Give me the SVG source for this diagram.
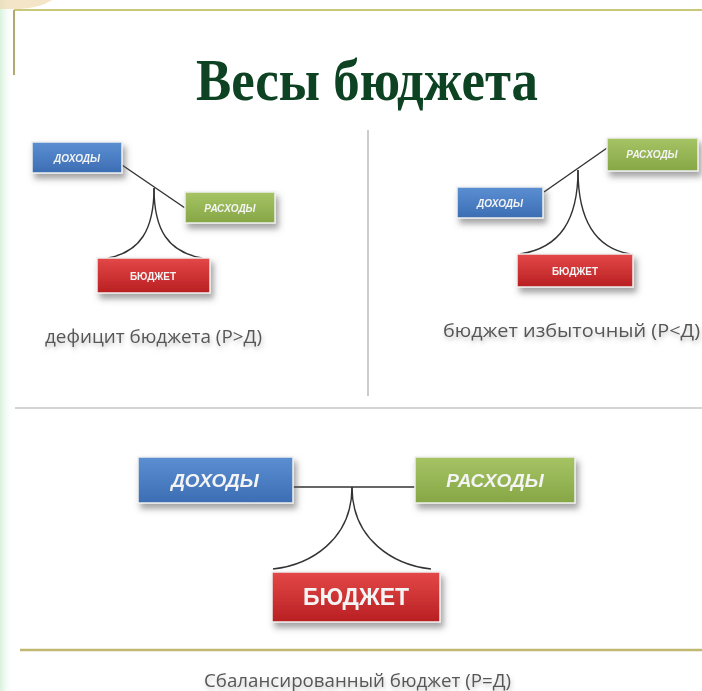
<svg xmlns="http://www.w3.org/2000/svg" width="702" height="691" viewBox="0 0 702 691">
<defs>
<linearGradient id="gBlue" x1="0" y1="0" x2="0" y2="1"><stop offset="0" stop-color="#5b8fd2"/><stop offset="1" stop-color="#3c6db3"/></linearGradient>
<linearGradient id="gGreen" x1="0" y1="0" x2="0" y2="1"><stop offset="0" stop-color="#a6c464"/><stop offset="1" stop-color="#86a646"/></linearGradient>
<linearGradient id="gRed" x1="0" y1="0" x2="0" y2="1"><stop offset="0" stop-color="#e44848"/><stop offset="1" stop-color="#b81f22"/></linearGradient>
<linearGradient id="gLeft" x1="0" y1="0" x2="1" y2="0"><stop offset="0" stop-color="#d8f2dc"/><stop offset="1" stop-color="#ffffff" stop-opacity="0"/></linearGradient>
<filter id="sh" x="-20%" y="-30%" width="150%" height="180%"><feDropShadow dx="3" dy="5" stdDeviation="3" flood-color="#555" flood-opacity="0.55"/></filter>
<filter id="tsh" x="-10%" y="-30%" width="120%" height="200%"><feDropShadow dx="1" dy="3" stdDeviation="2" flood-color="#888" flood-opacity="0.5"/></filter>
</defs>
<style>
.box{stroke:#eef0ee;stroke-width:1.5}
.lbl{font-family:"Liberation Sans",Arial,sans-serif;font-weight:bold;font-style:italic;fill:#f4f4f4;text-anchor:middle}
.blbl{font-family:"Liberation Sans",Arial,sans-serif;font-weight:bold;fill:#f4f4f4;text-anchor:middle}
.cap{font-family:"Open Sans","Liberation Sans",sans-serif;fill:#575757;filter:url(#tsh)}
.con{fill:none;stroke:#333;stroke-width:1.4}
</style>
<rect width="702" height="691" fill="#fff"/>
<rect x="0" y="0" width="14" height="691" fill="url(#gLeft)"/>
<path d="M0,0 H52 Q40,8 20,9 H0 Z" fill="#f0d8b0" opacity="0.7"/>
<g id="frame">
<line x1="14" y1="10" x2="702" y2="10" stroke="#c8c878" stroke-width="2"/>
<line x1="14" y1="10" x2="14" y2="75" stroke="#b0aa70" stroke-width="2"/>
<line x1="368" y1="130" x2="368" y2="396" stroke="#aaa" stroke-width="1.2"/>
<line x1="15" y1="408" x2="702" y2="408" stroke="#aaa" stroke-width="1.2"/>
<line x1="20" y1="650" x2="702" y2="650" stroke="#c0b870" stroke-width="2.5"/>
</g>
<g id="title"><text x="196" y="100" textLength="342" lengthAdjust="spacingAndGlyphs" font-family="'Liberation Serif',serif" font-weight="bold" font-size="60" fill="#0d4222">Весы бюджета</text></g>

<g id="connectors">
<line class="con" x1="122" y1="165" x2="185" y2="208"/>
<path class="con" d="M154,188 C154,230 140,252 108,258"/>
<path class="con" d="M154,188 C154,230 168,252 202,258"/>
<line class="con" x1="544" y1="192" x2="607" y2="148"/>
<path class="con" d="M578,170 C578,220 560,248 520,254"/>
<path class="con" d="M578,170 C578,220 595,248 630,254"/>
<line class="con" x1="290" y1="487" x2="415" y2="487"/>
<path class="con" d="M352,487 C352,540 310,565 273,569"/>
<path class="con" d="M352,487 C352,540 394,565 431,569"/>
</g>

<g id="n-income-left" filter="url(#sh)"><rect class="box" x="32" y="142" width="90" height="31" fill="url(#gBlue)"/><text class="lbl" x="77" y="162" font-size="10">ДОХОДЫ</text></g>
<g id="n-expense-left" filter="url(#sh)"><rect class="box" x="185" y="192" width="90" height="31" fill="url(#gGreen)"/><text class="lbl" x="230" y="212" font-size="10">РАСХОДЫ</text></g>
<g id="n-budget-left" filter="url(#sh)"><rect class="box" x="97" y="258" width="113" height="35" fill="url(#gRed)"/><text class="blbl" x="153" y="280" font-size="10">БЮДЖЕТ</text></g>
<g id="cap-left"><text class="cap" x="45" y="343" font-size="18" textLength="217" lengthAdjust="spacingAndGlyphs">дефицит бюджета (Р&gt;Д)</text></g>

<g id="n-expense-right" filter="url(#sh)"><rect class="box" x="607" y="138" width="91" height="33" fill="url(#gGreen)"/><text class="lbl" x="652" y="158" font-size="10">РАСХОДЫ</text></g>
<g id="n-income-right" filter="url(#sh)"><rect class="box" x="457" y="187" width="86" height="31" fill="url(#gBlue)"/><text class="lbl" x="500" y="207" font-size="10">ДОХОДЫ</text></g>
<g id="n-budget-right" filter="url(#sh)"><rect class="box" x="517" y="254" width="116" height="33" fill="url(#gRed)"/><text class="blbl" x="575" y="275" font-size="10">БЮДЖЕТ</text></g>
<g id="cap-right"><text class="cap" x="443" y="337" font-size="18" textLength="257" lengthAdjust="spacingAndGlyphs">бюджет избыточный (Р&lt;Д)</text></g>

<g id="n-income-bottom" filter="url(#sh)"><rect class="box" x="138" y="457" width="155" height="46" fill="url(#gBlue)"/><text class="lbl" x="215" y="487" font-size="19">ДОХОДЫ</text></g>
<g id="n-expense-bottom" filter="url(#sh)"><rect class="box" x="415" y="457" width="160" height="46" fill="url(#gGreen)"/><text class="lbl" x="495" y="487" font-size="19">РАСХОДЫ</text></g>
<g id="n-budget-bottom" filter="url(#sh)"><rect class="box" x="272" y="572" width="168" height="50" fill="url(#gRed)"/><text class="blbl" x="356" y="605" font-size="23">БЮДЖЕТ</text></g>
<g id="cap-bottom"><text class="cap" x="204" y="687" font-size="18" textLength="307" lengthAdjust="spacingAndGlyphs">Сбалансированный бюджет (Р=Д)</text></g>
</svg>
